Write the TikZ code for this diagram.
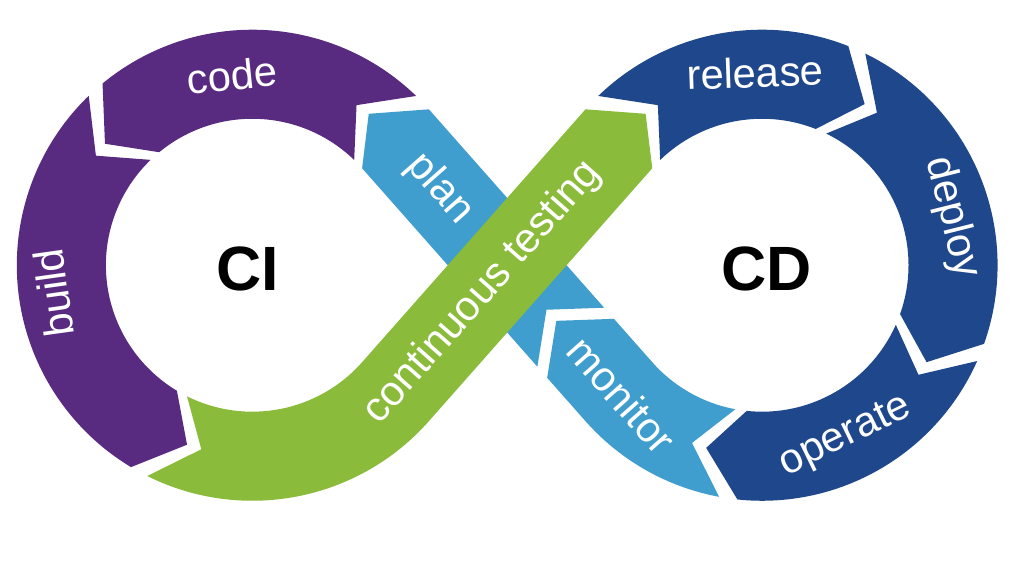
\documentclass[tikz,border=0pt]{standalone}
\usepackage{fontspec}
\setmainfont{Liberation Sans}
\usetikzlibrary{calc}
\definecolor{ciPurple}{RGB}{88,43,128}
\definecolor{cdBlue}{RGB}{31,71,139}
\definecolor{loopBlue}{RGB}{63,158,206}
\definecolor{testGreen}{RGB}{139,187,58}

\newcommand{\ringOut}{238}
\newcommand{\ringIn}{148}
\newcommand{\ringMid}{193}
\newcommand{\ringseg}[6]{%
  \fill[#6] ($(#1)+(#2:\ringOut)$) arc[start angle=#2, end angle=#4, radius=\ringOut]
    -- ($(#1)+(#5:\ringMid)$) -- ($(#1)+(#4:\ringIn)$)
    arc[start angle=#4, end angle=#2, radius=\ringIn]
    -- ($(#1)+(#3:\ringMid)$) -- cycle;}

\begin{document}
\begin{tikzpicture}[x=0.02cm, y=0.02cm,
    stagetext/.style={text=white, font=\fontsize{24}{24}\selectfont},
    looptext/.style={text=black, font=\bfseries\fontsize{36}{36}\selectfont}
]
    \fill[white] (-512.5,-308) rectangle (511.5,268);
    \coordinate (ci) at (-257.5,0);
    \coordinate (cd) at (257.5,0);
    \coordinate (m) at (0,0);

    \ringseg{ci}{45.95}{56.95}{129.5}{140.5}{ciPurple}
    \ringseg{ci}{134}{145}{239}{250}{ciPurple}
    \ringseg{cd}{134.05}{123.05}{68.5}{57.5}{cdBlue}
    \ringseg{cd}{64}{53}{-19.5}{-30.5}{cdBlue}
    \ringseg{cd}{-24}{-35}{-96}{-107}{cdBlue}

    \fill[loopBlue] ($(cd)+(259.5:\ringOut)$) arc[start angle=259.5, end angle=221.45, radius=\ringOut]
        -- ($(m)+(311.45:112)+(221.45:45)$) -- ($(m)+(311.45:75)$)
        -- ($(m)+(311.45:112)+(41.45:45)$) -- ($(cd)+(221.45:\ringIn)$)
        arc[start angle=221.45, end angle=259.5, radius=\ringIn]
        -- ($(cd)+(248.5:\ringMid)$) -- cycle;
    \fill[loopBlue] ($(m)+(311.45:97)+(41.45:45)$) -- ($(ci)+(41.45:\ringOut)$)
        -- ($(ci)+(52.45:\ringMid)$) -- ($(ci)+(41.45:\ringIn)$)
        -- ($(m)+(311.45:97)+(221.45:45)$) -- ($(m)+(311.45:60)$) -- cycle;
    \fill[testGreen] ($(ci)+(243.5:\ringOut)$) arc[start angle=243.5, end angle=318.55, radius=\ringOut]
        -- ($(cd)+(138.55:\ringIn)$) -- ($(cd)+(127.55:\ringMid)$) -- ($(cd)+(138.55:\ringOut)$)
        -- ($(ci)+(318.55:\ringIn)$) arc[start angle=318.55, end angle=243.5, radius=\ringIn]
        -- ($(ci)+(254.5:\ringMid)$) -- cycle;

    \node[stagetext, rotate=6] (code) at ($(ci)+(96:\ringMid)$) {code};
    \node[stagetext, rotate=98] (build) at ($(ci)+(188:203)$) {build};
    \node[stagetext, rotate=-48.55] (plan) at ($(m)+(131.45:103)$) {plan};
    \node[stagetext, rotate=48.55] (testing) at ($(m)+(228.55:37)$) {continuous testing};
    \node[stagetext, rotate=2] (release) at ($(cd)+(92:195)$) {release};
    \node[stagetext, rotate=-76] (deploy) at ($(cd)+(14:198)$) {deploy};
    \node[stagetext, rotate=26] (operate) at ($(cd)+(-64:\ringMid)$) {operate};
    \node[stagetext, rotate=-48.55] (monitor) at ($(m)+(311.45:175)$) {monitor};

    \node[looptext] (ciText) at (-262.5,-4) {CI};
    \node[looptext] (cdText) at (262.5,-4) {CD};
\end{tikzpicture}
\end{document}
